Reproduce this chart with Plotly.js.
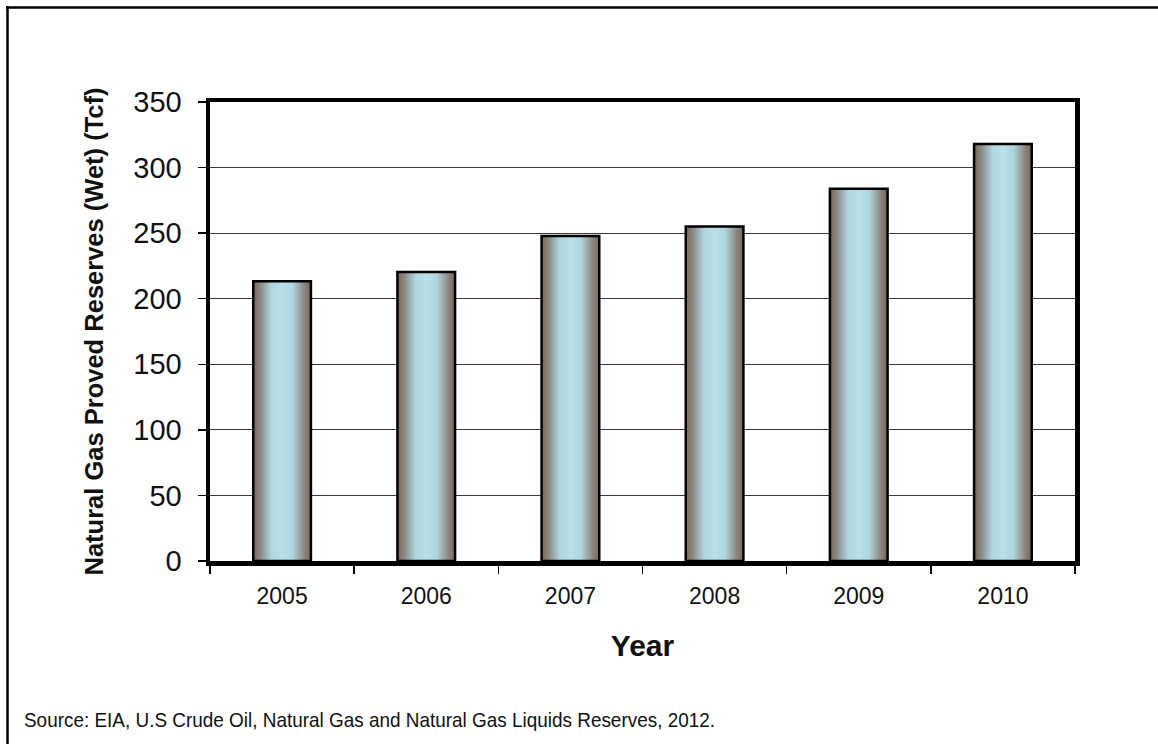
<!DOCTYPE html>
<html>
<head>
<meta charset="utf-8">
<script src="https://cdn.plot.ly/plotly-3.0.1.min.js"></script>
<style>
  html, body { margin: 0; padding: 0; background: #fff; }
  #chart { width: 1158px; height: 744px; }
</style>
</head>
<body>
<div id="chart"></div>
<script>
// ---- data ----
const years = ['2005', '2006', '2007', '2008', '2009', '2010'];
const reserves = [213.3, 220.4, 247.8, 255.0, 283.9, 318.0];
const yTickVals = [0, 50, 100, 150, 200, 250, 300, 350];
const yAxisTitle = 'Natural Gas Proved Reserves (Wet) (Tcf)';
const xAxisTitle = 'Year';
const sourceNote = 'Source: EIA, U.S Crude Oil, Natural Gas and Natural Gas Liquids Reserves, 2012.';

// ---- layout geometry (pixels) ----
const W = 1158, H = 744;
const M = { l: 210, r: 83, t: 102, b: 183 };
const plotW = W - M.l - M.r, plotH = H - M.t - M.b;
const px2x = p => (p - M.l) / plotW;
const px2y = p => (H - M.b - p) / plotH;

const font = '"Liberation Sans", Arial, Helvetica, sans-serif';

const trace = {
  type: 'bar',
  x: years,
  y: reserves,
  width: 0.4,
  marker: { color: '#b3dbe5', line: { color: '#000', width: 2.5 } },
  hoverinfo: 'x+y'
};

const layout = {
  width: W, height: H,
  margin: M,
  paper_bgcolor: '#fff',
  plot_bgcolor: '#fff',
  showlegend: false,
  font: { family: font, color: '#000' },
  xaxis: {
    type: 'category',
    tickson: 'boundaries',
    ticks: 'outside', ticklen: 8, tickwidth: 1.5, tickcolor: '#000',
    showline: true, linecolor: '#000', linewidth: 4.5, mirror: true,
    showgrid: false, zeroline: false,
    tickfont: { size: 23, family: font, color: '#111' },
    ticklabelstandoff: 11,
    title: { text: xAxisTitle, font: { size: 30, family: font, weight: 'bold', color: '#111' }, standoff: 28 },
    automargin: false
  },
  yaxis: {
    range: [0, 350],
    tickvals: yTickVals,
    ticks: 'outside', ticklen: 8, tickwidth: 1.5, tickcolor: '#000',
    showline: true, linecolor: '#000', linewidth: 4.5, mirror: true,
    showgrid: true, gridcolor: '#3a3a3a', gridwidth: 1.2,
    zeroline: false,
    tickfont: { size: 29, family: font, color: '#111' },
    ticklabelstandoff: 10,
    title: { text: yAxisTitle, font: { size: 25.5, family: font, weight: 'bold', color: '#111' }, standoff: 24 },
    automargin: false
  },
  shapes: [
    { type: 'line', xref: 'paper', yref: 'paper', x0: px2x(6), x1: px2x(W), y0: px2y(7.5), y1: px2y(7.5), line: { color: '#000', width: 2.5 } },
    { type: 'line', xref: 'paper', yref: 'paper', x0: px2x(7.5), x1: px2x(7.5), y0: px2y(6), y1: px2y(H), line: { color: '#000', width: 2.5 } }
  ],
  annotations: [
    { text: sourceNote, xref: 'paper', yref: 'paper', x: px2x(22), y: px2y(719), xanchor: 'left', yanchor: 'middle', showarrow: false,
      font: { size: 21, family: font, color: '#111' } }
  ]
};

Plotly.newPlot('chart', [trace], layout, { displayModeBar: false, staticPlot: true }).then(gd => {
  const svg = gd.querySelector('svg.main-svg');
  const NS = 'http://www.w3.org/2000/svg';
  let defs = svg.querySelector('defs');
  if (!defs) { defs = document.createElementNS(NS, 'defs'); svg.insertBefore(defs, svg.firstChild); }
  const g = document.createElementNS(NS, 'linearGradient');
  g.setAttribute('id', 'barGrad');
  g.setAttribute('x1', '0'); g.setAttribute('x2', '1'); g.setAttribute('y1', '0'); g.setAttribute('y2', '0');
  [[0, '#7a6555'], [0.12, '#8b8883'], [0.32, '#b0d7e1'], [0.5, '#b8e0e9'], [0.68, '#b0d7e1'], [0.88, '#8b8883'], [1, '#7a6555']].forEach(([o, c]) => {
    const s = document.createElementNS(NS, 'stop');
    s.setAttribute('offset', o); s.setAttribute('stop-color', c);
    g.appendChild(s);
  });
  defs.appendChild(g);
  gd.querySelectorAll('.barlayer .point path').forEach(p => { p.style.fill = 'url(#barGrad)'; });
  // the source line in the reference is set in a condensed face: squeeze it to the same width, keeping its left edge
  gd.querySelectorAll('.annotation-text').forEach(t => {
    if (t.textContent === sourceNote) {
      const bb = t.getBBox();
      t.style.textAnchor = 'start';
      t.setAttribute('text-anchor', 'start');
      t.setAttribute('x', bb.x);
      t.setAttribute('textLength', '691');
      t.setAttribute('lengthAdjust', 'spacingAndGlyphs');
    }
  });
});
</script>
</body>
</html>
